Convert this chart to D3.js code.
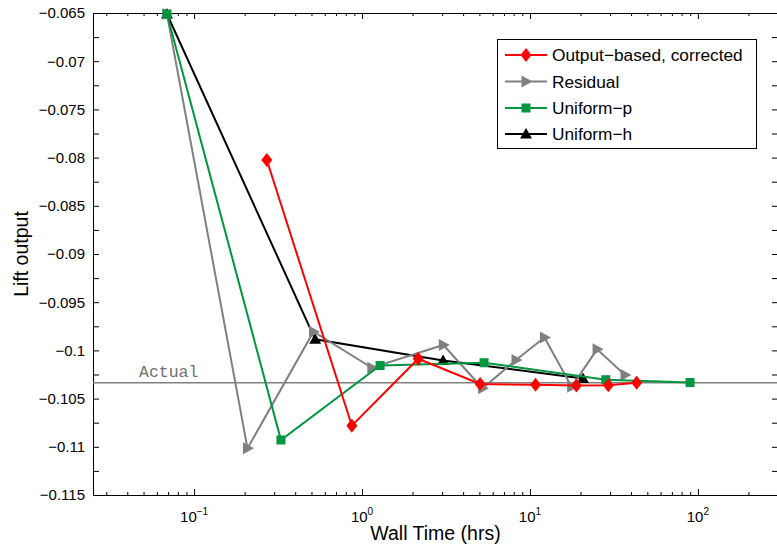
<!DOCTYPE html>
<html><head><meta charset="utf-8">
<script src="https://cdn.jsdelivr.net/npm/d3@7"></script>
<style>body{margin:0;background:#fff} svg{display:block}</style>
</head><body><svg id="c" width="777" height="547"></svg>
<script>
// ---- data ----
const seriesNames = ["Output\u2212based, corrected", "Residual", "Uniform\u2212p", "Uniform\u2212h"];
const outputTime = [0.271, 0.870, 2.16, 5.05, 10.8, 18.9, 29.3, 43.2];
const outputLift = [-0.08025, -0.10781, -0.10087, -0.10349, -0.10356, -0.10364, -0.10362, -0.10335];
const residualTime = [0.0689, 0.208, 0.514, 1.144, 3.05, 5.22, 8.26, 12.2, 17.7, 25.1, 36.8];
const residualLift = [-0.0651, -0.11016, -0.09806, -0.1018, -0.09944, -0.10393, -0.1010, -0.09866, -0.10377, -0.09989, -0.10255];
const unifPTime = [0.0689, 0.329, 1.281, 5.33, 28.3, 89.8];
const unifPLift = [-0.0651, -0.10929, -0.10157, -0.10128, -0.10304, -0.10333];
const unifHTime = [0.0689, 0.526, 3.04, 20.7];
const unifHLift = [-0.0651, -0.09885, -0.10105, -0.10291];
const actualLift = -0.10335;
const actualLabel = "Actual";
const xMajorTicks = [0.1, 1, 10, 100];
const xTickExponents = ["\u22121", "0", "1", "2"];
const yTickValues = d3.range(0, 21).map(i => -0.115 + i * 0.0025);
const yTickLabels = ["\u22120.115","\u22120.11","\u22120.105","\u22120.1","\u22120.095","\u22120.09","\u22120.085","\u22120.08","\u22120.075","\u22120.07","\u22120.065"];
const xLabel = "Wall Time (hrs)";
const yLabel = "Lift output";

// ---- layout ----
const L = 93, R = 778, T = 13, B = 495;
const svg = d3.select("#c");
const x = d3.scaleLog().domain([0.025, 300]).range([L, R]);
const y = d3.scaleLinear().domain([-0.115, -0.065]).range([B, T]);
const font = "'Liberation Sans', Arial, Helvetica, sans-serif";

// minor ticks
const xMinor = [];
[0.01, 0.1, 1, 10, 100].forEach(d => { for (let k = 2; k <= 9; k++) { const v = d * k; if (v >= 0.025 && v <= 300) xMinor.push(v); } });

// axes ticks (inside)
function styleAxis(g) { g.select(".domain").remove(); g.selectAll("line").attr("stroke", "#000").attr("stroke-width", 1); }
svg.append("g").attr("transform", `translate(0,${B})`).call(d3.axisBottom(x).tickValues(xMajorTicks).tickSize(-6).tickFormat("")).call(styleAxis);
svg.append("g").attr("transform", `translate(0,${B})`).call(d3.axisBottom(x).tickValues(xMinor).tickSize(-3).tickFormat("")).call(styleAxis);
svg.append("g").attr("transform", `translate(0,${T})`).call(d3.axisTop(x).tickValues(xMajorTicks).tickSize(-6).tickFormat("")).call(styleAxis);
svg.append("g").attr("transform", `translate(0,${T})`).call(d3.axisTop(x).tickValues(xMinor).tickSize(-3).tickFormat("")).call(styleAxis);

const yAx = svg.append("g").attr("transform", `translate(${L},0)`)
  .call(d3.axisLeft(y).tickValues(yTickValues).tickSize(-6).tickPadding(8)
    .tickFormat((d, i) => i % 2 === 0 ? yTickLabels[i / 2] : ""))
  .call(styleAxis);
yAx.selectAll("text").attr("font-family", font).attr("font-size", 15).attr("fill", "#000");
svg.append("g").attr("transform", `translate(${R},0)`)
  .call(d3.axisRight(y).tickValues(yTickValues).tickSize(-6).tickFormat("")).call(styleAxis);

// box
svg.append("rect").attr("x", L + 0.5).attr("y", T + 0.5).attr("width", R - L).attr("height", B - T)
  .attr("fill", "none").attr("stroke", "#000").attr("stroke-width", 1);

// x tick labels with superscripts
const xl = svg.append("g").selectAll("text").data(xMajorTicks).join("text")
  .attr("x", d => x(d)).attr("y", 522).attr("text-anchor", "middle")
  .attr("font-family", font).attr("font-size", 15).attr("fill", "#000");
xl.append("tspan").text("10");
xl.append("tspan").attr("font-size", 10).attr("dy", -7).text((d, i) => xTickExponents[i]);

// axis labels
svg.append("text").attr("x", (L + R) / 2).attr("y", 540).attr("text-anchor", "middle")
  .attr("font-family", font).attr("font-size", 19.5).text(xLabel);
svg.append("text").attr("transform", `translate(28,${(T + B) / 2}) rotate(-90)`).attr("text-anchor", "middle")
  .attr("font-family", font).attr("font-size", 19.5).text(yLabel);

// actual line
svg.append("line").attr("x1", L).attr("x2", R).attr("y1", y(actualLift)).attr("y2", y(actualLift))
  .attr("stroke", "#808080").attr("stroke-width", 1.5);
svg.append("text").attr("x", 139).attr("y", y(actualLift) - 6)
  .attr("font-family", "'Liberation Mono', 'Courier New', monospace").attr("font-size", 16.5)
  .attr("fill", "#707070").text(actualLabel);

// markers
const markers = {
  diamond: "M0,-7L5.5,0L0,7L-5.5,0Z",
  triRight: "M6.5,0L-4.5,-6L-4.5,6Z",
  square: "M-4.5,-4.5h9v9h-9Z",
  triUp: "M0,-6L6,4.5L-6,4.5Z"
};
const series = [
  { name: seriesNames[3], t: unifHTime, v: unifHLift, color: "#000000", m: markers.triUp },
  { name: seriesNames[1], t: residualTime, v: residualLift, color: "#808080", m: markers.triRight },
  { name: seriesNames[2], t: unifPTime, v: unifPLift, color: "#00963f", m: markers.square },
  { name: seriesNames[0], t: outputTime, v: outputLift, color: "#ff0000", m: markers.diamond }
];
const line = d3.line().x(d => x(d[0])).y(d => y(d[1]));
series.forEach(s => {
  const pts = s.t.map((t, i) => [t, s.v[i]]);
  const g = svg.append("g");
  g.append("path").attr("d", line(pts)).attr("fill", "none").attr("stroke", s.color).attr("stroke-width", 2);
  g.selectAll("path.m").data(pts).join("path").attr("class", "m")
    .attr("transform", d => `translate(${x(d[0])},${y(d[1])})`).attr("d", s.m).attr("fill", s.color);
});

// legend
const lg = svg.append("g");
lg.append("rect").attr("x", 497.5).attr("y", 39.5).attr("width", 259).attr("height", 109)
  .attr("fill", "#fff").attr("stroke", "#000").attr("stroke-width", 1);
const legendOrder = [series[3], series[1], series[2], series[0]];
const rowsY = [55, 81.5, 108, 134];
legendOrder.forEach((s, i) => {
  const yy = rowsY[i];
  lg.append("line").attr("x1", 505).attr("x2", 547).attr("y1", yy).attr("y2", yy).attr("stroke", s.color).attr("stroke-width", 2);
  lg.append("path").attr("transform", `translate(526,${yy})`).attr("d", s.m).attr("fill", s.color);
  lg.append("text").attr("x", 552).attr("y", yy).attr("dy", "0.35em").attr("font-family", font).attr("font-size", 17.3).text(s.name);
});
</script></body></html>
